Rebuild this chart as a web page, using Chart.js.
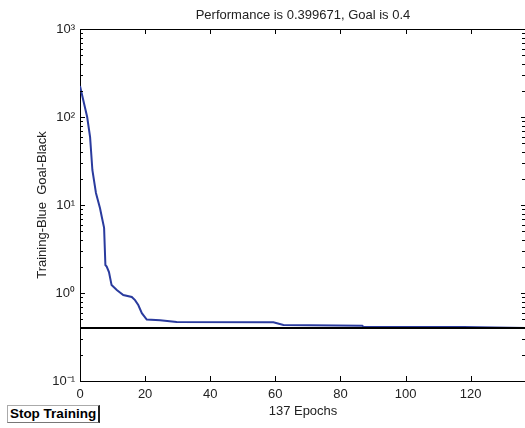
<!DOCTYPE html>
<html>
<head>
<meta charset="utf-8">
<script src="https://cdn.jsdelivr.net/npm/chart.js@4.4.1/dist/chart.umd.min.js"></script>
<style>
    html, body { margin: 0; padding: 0; overflow: hidden; background: #fff; }
    #wrap { position: relative; width: 525px; height: 428px; overflow: hidden; }
    #perfChart { position: absolute; left: 0; top: 0; }
    #title {
        position: absolute; left: 80px; width: 446px; top: 7px;
        text-align: center; font: 13px/15px "Liberation Sans", Arial, sans-serif; color: #222;
    }
    #stopBtn {
        position: absolute; left: 7px; top: 405px; width: 93px; height: 18px;
        box-sizing: border-box; background: #fff;
        border: 1px solid #aaa; border-right: 2px solid #222; border-bottom: 1px solid #777;
        font: bold 13.5px/16px "Liberation Sans", Arial, sans-serif; color: #000;
        text-align: center; white-space: nowrap;
    }
</style>
</head>
<body>
<div id="wrap">
    <canvas id="perfChart" width="526" height="428"></canvas>
    <div id="title">Performance is 0.399671, Goal is 0.4</div>
    <div id="stopBtn">Stop Training</div>
</div>
<script>
// Datos (época, rendimiento)
const epochs = [0, 2.2, 3.1, 3.8, 4.9, 6.15, 6.7, 7.4, 7.8, 8.2, 8.9, 9.7, 11.3, 13.3, 15.9, 16.9, 17.9, 19, 20.5, 24.6, 29.7, 59.4, 62.5, 86.7, 87, 117.8, 137];
const perf = [225, 100, 59, 25, 13.7, 9.2, 7.3, 5.5, 2.08, 2.0, 1.73, 1.23, 1.08, 0.95, 0.90, 0.83, 0.73, 0.59, 0.50, 0.49, 0.467, 0.464, 0.433, 0.425, 0.414, 0.41, 0.3997];
const goalEpochs = [0, 137];
const goalValues = [0.4, 0.4];

const xTicks = [0, 20, 40, 60, 80, 100, 120];
const yTicks = [0.1, 1, 10, 100, 1000];
const yTickLabels = ['10⁻¹', '10⁰', '10¹', '10²', '10³'];
const yMinor = [2, 3, 4, 5, 6, 7, 8, 9];

const FONT = '"Liberation Sans", Arial, sans-serif';

// Marcas hacia dentro en los cuatro lados, como en MATLAB
const boxTicks = {
    id: 'boxTicks',
    afterDatasetsDraw(chart) {
        const { ctx, chartArea: a, scales: { x, y } } = chart;
        ctx.save();
        ctx.strokeStyle = '#000';
        ctx.lineWidth = 1;
        ctx.beginPath();
        ctx.moveTo(a.left, a.top + 0.5);
        ctx.lineTo(a.right, a.top + 0.5);
        xTicks.forEach(v => {
            const px = Math.round(x.getPixelForValue(v)) + 0.5;
            ctx.moveTo(px, a.bottom); ctx.lineTo(px, a.bottom - 5);
            ctx.moveTo(px, a.top); ctx.lineTo(px, a.top + 5);
        });
        yTicks.forEach((v, i) => {
            const py = Math.round(y.getPixelForValue(v)) + 0.5;
            ctx.moveTo(a.left, py); ctx.lineTo(a.left + 5, py);
            ctx.moveTo(a.right, py); ctx.lineTo(a.right - 5, py);
            if (i < yTicks.length - 1) {
                yMinor.forEach(m => {
                    const pm = Math.round(y.getPixelForValue(v * m)) + 0.5;
                    ctx.moveTo(a.left, pm); ctx.lineTo(a.left + 3, pm);
                    ctx.moveTo(a.right, pm); ctx.lineTo(a.right - 4, pm);
                });
            }
        });
        ctx.stroke();
        ctx.restore();
    }
};

const ctx = document.getElementById('perfChart').getContext('2d');
new Chart(ctx, {
    type: 'line',
    data: {
        datasets: [{
            label: 'Goal',
            data: goalEpochs.map((e, i) => ({ x: e, y: goalValues[i] })),
            borderColor: '#000',
            borderWidth: 2,
            pointRadius: 0,
            tension: 0
        }, {
            label: 'Training',
            data: epochs.map((e, i) => ({ x: e, y: perf[i] })),
            borderColor: '#2a3b9e',
            borderWidth: 2,
            pointRadius: 0,
            tension: 0
        }]
    },
    options: {
        responsive: false,
        animation: false,
        layout: { padding: { top: 29, right: 0, left: 0, bottom: 0 } },
        plugins: { legend: { display: false }, tooltip: { enabled: false } },
        scales: {
            x: {
                type: 'linear',
                min: 0,
                max: 137,
                afterBuildTicks: s => { s.ticks = xTicks.map(v => ({ value: v })); },
                afterFit: s => { s.height = 47; },
                grid: { display: false, drawTicks: false },
                border: { display: true, color: '#000', width: 1 },
                ticks: { color: '#222', font: { family: FONT, size: 13 }, padding: 6, maxRotation: 0 },
                title: {
                    display: true, text: '137 Epochs', color: '#222',
                    font: { family: FONT, size: 13 }, padding: { top: 0, bottom: 9 }
                }
            },
            y: {
                type: 'logarithmic',
                min: 0.1,
                max: 1000,
                afterBuildTicks: s => { s.ticks = yTicks.map(v => ({ value: v })); },
                afterFit: s => { s.width = 80; },
                grid: { display: false, drawTicks: false },
                border: { display: true, color: '#000', width: 1 },
                ticks: {
                    color: '#222', font: { family: FONT, size: 13 }, padding: 5,
                    callback: v => yTickLabels[yTicks.indexOf(v)]
                },
                title: {
                    display: true, text: 'Training-Blue  Goal-Black', color: '#222',
                    font: { family: FONT, size: 13 }, padding: { top: 35, bottom: 0 }
                }
            }
        }
    },
    plugins: [boxTicks]
});
</script>
</body>
</html>
